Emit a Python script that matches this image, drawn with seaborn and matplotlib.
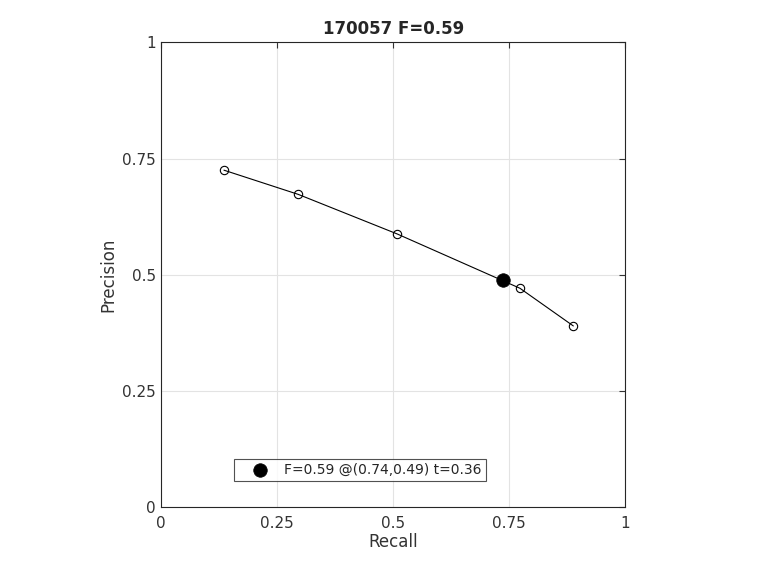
import numpy as np
import pandas as pd
import seaborn as sns
import matplotlib.pyplot as plt

# Precision/recall curve
recall = [0.135, 0.295, 0.508, 0.773, 0.888]
precision = [0.725, 0.673, 0.588, 0.471, 0.390]
best_recall = [0.737]
best_precision = [0.489]
best_label = "F=0.59 @(0.74,0.49) t=0.36"
title = "170057 F=0.59"
ticks = [0, 0.25, 0.5, 0.75, 1]
tick_labels = ["0", "0.25", "0.5", "0.75", "1"]

df = pd.DataFrame({"recall": recall, "precision": precision})
best = pd.DataFrame({"recall": best_recall, "precision": best_precision})

sns.set_theme(style="white")
plt.rcParams["font.family"] = ["DejaVu Sans"]

fig = plt.figure(figsize=(7.6, 5.7), dpi=100)
ax = fig.add_axes([161.3 / 760, 1 - 507.3 / 570, 464 / 760, 465 / 570])

sns.lineplot(data=df, x="recall", y="precision", ax=ax, color="black", lw=0.8,
             marker="o", markersize=6, markerfacecolor="none",
             markeredgecolor="black", markeredgewidth=0.8, sort=False)
sns.scatterplot(data=best, x="recall", y="precision", ax=ax, color="black",
                s=95, edgecolor="black", linewidth=0.5, zorder=5, label=best_label)

ax.set_xlim(0, 1)
ax.set_ylim(0, 1)
ax.set_xticks(ticks)
ax.set_yticks(ticks)
ax.set_xticklabels(tick_labels)
ax.set_yticklabels(tick_labels)
ax.grid(True, color="#e3e3e3", lw=0.8)
ax.set_axisbelow(True)
for s in ax.spines.values():
    s.set_color("#262626")
    s.set_linewidth(0.8)
ax.tick_params(direction="in", length=4, width=0.8, top=True, right=True,
               labelsize=11, colors="#333333")
ax.tick_params(axis="x", pad=6)
ax.tick_params(axis="y", pad=4)
ax.set_xlabel("Recall", fontsize=12, color="#333333", labelpad=2)
ax.set_ylabel("Precision", fontsize=12, color="#333333", labelpad=3)
ax.set_title(title, fontsize=12, fontweight="bold", pad=6)

leg = ax.legend(loc="lower left", bbox_to_anchor=(0.157, 0.056), fontsize=10,
                frameon=True, fancybox=False, borderaxespad=0,
                handlelength=3.1, handletextpad=0.18, borderpad=0.3)
leg.get_frame().set_edgecolor("#262626")
leg.get_frame().set_linewidth(0.8)

fig.savefig("out.png", dpi=100)
